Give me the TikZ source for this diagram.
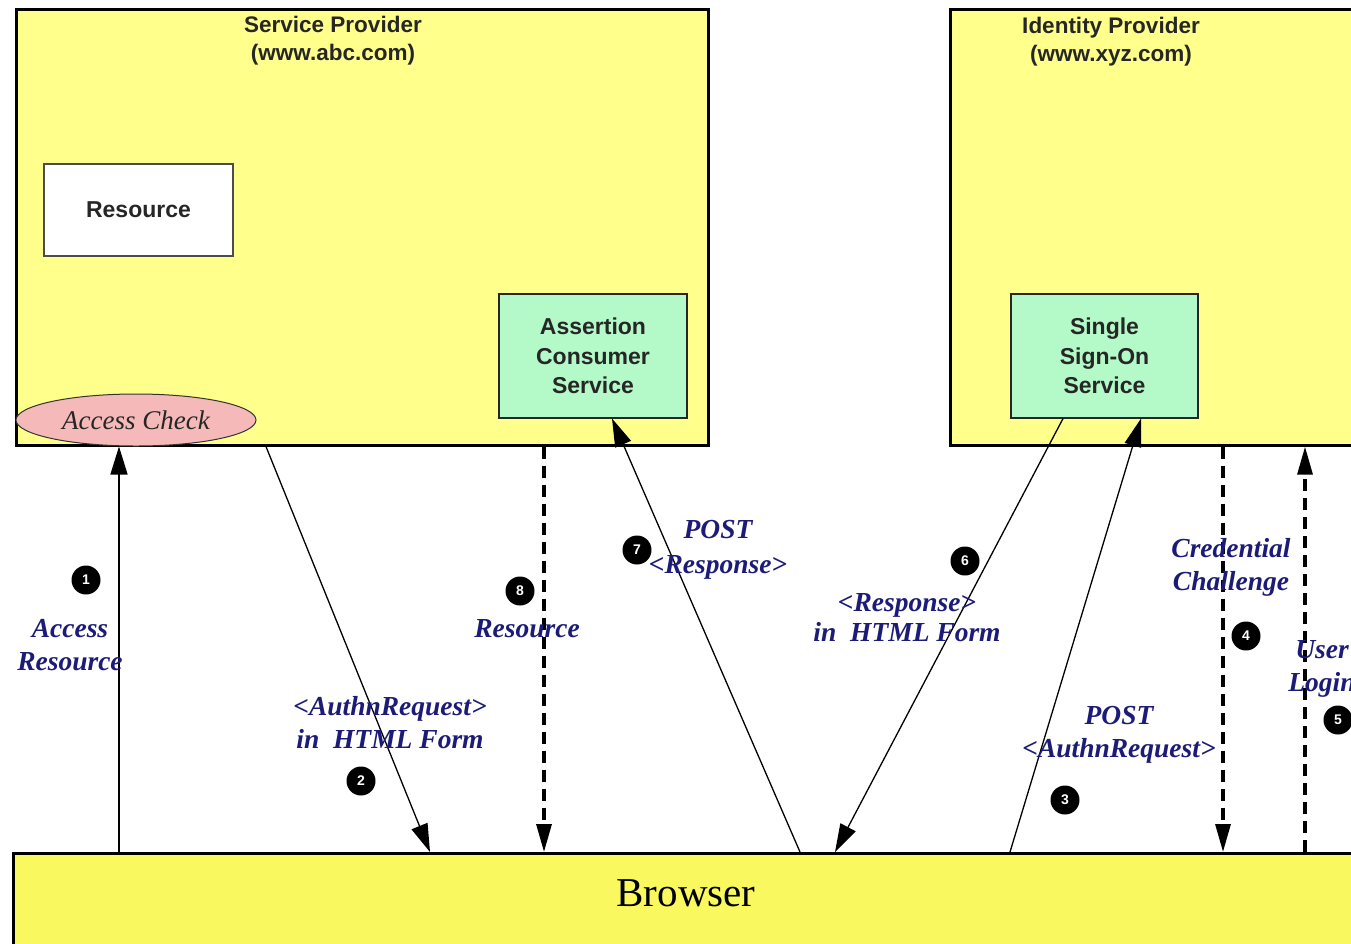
\documentclass[tikz,border=0pt]{standalone}
\usepackage{fontspec}
\setmainfont{Liberation Serif}
\setsansfont{Liberation Sans}
\usetikzlibrary{arrows.meta,shapes.geometric}
\definecolor{spyellow}{HTML}{FFFF8C}
\definecolor{bryellow}{HTML}{F9F95F}
\definecolor{svcgreen}{HTML}{B4F9C8}
\definecolor{chkpink}{HTML}{F5B9B9}
\definecolor{lblblue}{HTML}{1C1C78}
\begin{document}
\begin{tikzpicture}[x=1pt,y=-1pt,
  container/.style={draw=black, line width=2.6pt, fill=spyellow, anchor=north west, inner sep=0pt},
  browserbox/.style={draw=black, line width=2.8pt, fill=bryellow, anchor=north west, inner sep=0pt},
  titletext/.style={font=\sffamily\bfseries\fontsize{22.5}{28}\selectfont, align=center, text=black!85},
  svcbox/.style={draw=black!85, line width=1.1pt, fill=svcgreen, minimum width=188pt, minimum height=124pt, inner sep=0pt, font=\sffamily\bfseries\fontsize{23}{29.5}\selectfont, align=center, text=black!85},
  resbox/.style={draw=black!70, line width=1.1pt, fill=white, minimum width=189pt, minimum height=92pt, inner sep=0pt, font=\sffamily\bfseries\fontsize{23}{28}\selectfont, text=black!85},
  checkell/.style={ellipse, draw=black!80, line width=1pt, fill=chkpink, minimum width=240pt, minimum height=52pt, inner sep=0pt, font=\rmfamily\itshape\fontsize{27}{30}\selectfont, text=black!85},
  lbl/.style={font=\rmfamily\bfseries\itshape\fontsize{27.5}{33}\selectfont, text=lblblue, align=center, inner sep=0pt},
  badge/.style={circle, fill=black, text=white, minimum size=29pt, inner sep=0pt, font=\sffamily\bfseries\fontsize{14}{14}\selectfont},
  solidarr/.style={line width=1.3pt, -{Triangle[length=28pt,width=17pt]}},
  dasharr/.style={line width=3.2pt, dash pattern=on 12pt off 7pt, -{Triangle[length=28pt,width=15pt]}}
]
\useasboundingbox (0,0) rectangle (1351,943);
\clip (0,0) rectangle (1351,943);
\fill[white] (0,0) rectangle (1351,943);

% containers
\node[container, minimum width=692pt, minimum height=436pt] (sp) at (15,8) {};
\node[container, minimum width=520pt, minimum height=436pt] (idp) at (949,8) {};
\node[browserbox, minimum width=1450pt, minimum height=200pt] (browser) at (12,852) {};
\node[font=\rmfamily\fontsize{41}{41}\selectfont, text=black] (browsertxt) at (686,893) {Browser};

\node[titletext] (sptitle) at (333,41) {Service Provider\\(www.abc.com)};
\node[titletext] (idptitle) at (1111,42) {Identity Provider\\(www.xyz.com)};

% inner nodes
\node[resbox] (res) at (138.5,210) {Resource};
\node[svcbox] (acs) at (593,356) {Assertion\\Consumer\\Service};
\node[svcbox, minimum width=187pt] (sso) at (1104.5,356) {Single\\Sign-On\\Service};
\node[checkell] (ac) at (136,420) {Access Check};

% x positions for connectors
\coordinate (xa) at (119,0);
\coordinate (xb) at (266,0);
\coordinate (xc) at (430,0);
\coordinate (xd) at (544,0);
\coordinate (xe) at (800,0);
\coordinate (xf) at (612,0);
\coordinate (xg) at (1063,0);
\coordinate (xh) at (835,0);
\coordinate (xi) at (1010,0);
\coordinate (xj) at (1141,0);
\coordinate (xk) at (1223,0);
\coordinate (xl) at (1305,0);

% connectors
\draw[solidarr] (browser.north -| xa) -- (ac.south -| xa);
\draw[solidarr] (sp.south -| xb) -- (browser.north -| xc);
\draw[dasharr] (sp.south -| xd) -- (browser.north -| xd);
\draw[solidarr] (browser.north -| xe) -- (acs.south -| xf);
\draw[solidarr] (sso.south -| xg) -- (browser.north -| xh);
\draw[solidarr] (browser.north -| xi) -- (sso.south -| xj);
\draw[dasharr] (idp.south -| xk) -- (browser.north -| xk);
\draw[dasharr] (browser.north -| xl) -- (idp.south -| xl);

% labels
\node[lbl] (l1) at (70,645) {Access\\Resource};
\node[lbl] (l2) at (390,723) {<AuthnRequest>\\in\ \ HTML Form};
\node[lbl] (l8) at (527,629) {Resource};
\node[lbl, font=\rmfamily\bfseries\itshape\fontsize{27.5}{35}\selectfont] (l7) at (718,550) {POST\\<Response>};
\node[lbl, font=\rmfamily\bfseries\itshape\fontsize{27.5}{30}\selectfont] (l6) at (907,618) {<Response>\\in\ \ HTML Form};
\node[lbl] (l4) at (1231,567) {Credential\\Challenge};
\node[lbl] (l3) at (1119,735) {POST\\<AuthnRequest>};
\node[lbl] (l5) at (1322,669) {User\\Login};

% badges
\node[badge] (n1) at (86,580) {1};
\node[badge] (n2) at (361,781) {2};
\node[badge] (n3) at (1065,800) {3};
\node[badge] (n4) at (1246,636) {4};
\node[badge] (n5) at (1338,720) {5};
\node[badge] (n6) at (965,561) {6};
\node[badge] (n7) at (637,550) {7};
\node[badge] (n8) at (520,591) {8};
\end{tikzpicture}
\end{document}
